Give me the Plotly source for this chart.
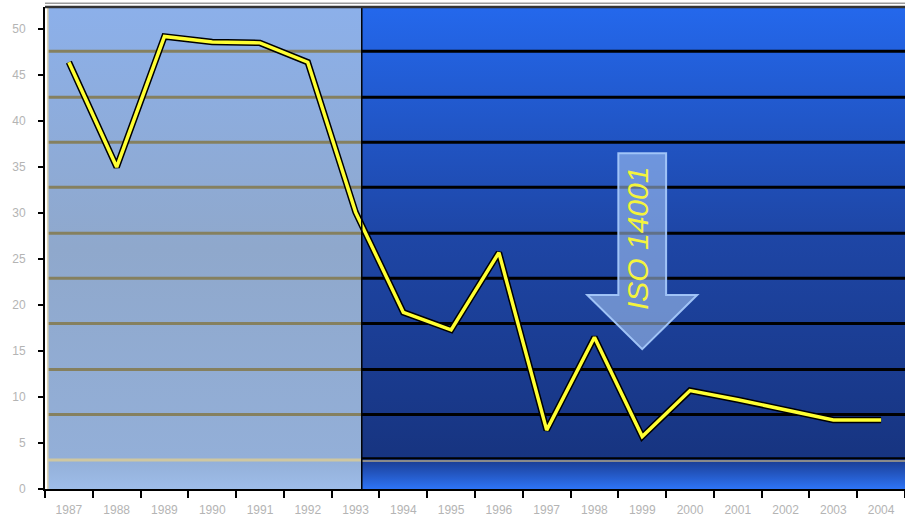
import plotly.graph_objects as go

# ---- data ----
years = ["1987", "1988", "1989", "1990", "1991", "1992", "1993", "1994", "1995",
         "1996", "1997", "1998", "1999", "2000", "2001", "2002", "2003", "2004"]
values = [46.4, 35.0, 49.2, 48.6, 48.5, 46.4, 30.1, 19.2, 17.3,
          25.7, 6.4, 16.5, 5.7, 10.7, 9.7, 8.6, 7.5, 7.5]
y_ticks = [0, 5, 10, 15, 20, 25, 30, 35, 40, 45, 50]
# gridlines on the (perspective) back wall
wall_grid = [8.1, 13.0, 18.0, 22.9, 27.8, 32.8, 37.7, 42.6, 47.6]
floor_level = 3.15
arrow_label = "ISO 14001"
arrow_year = "1999"

# ---- layout constants ----
X_MIN, X_MAX = -0.5, len(years) - 0.5
Y_MAX = 52.4
ERA_SPLIT = 6.13      # boundary of the shaded pre-ISO era
LEFT_EDGE = -0.44
idx = list(range(len(years)))

fig = go.Figure()


def rect_trace(x0, x1, y0, y1, scale):
    return go.Scatter(
        x=[x0, x1, x1, x0, x0], y=[y0, y0, y1, y1, y0],
        mode="none", fill="toself",
        fillgradient=dict(type="vertical", colorscale=scale),
        hoverinfo="skip", showlegend=False)


# right (post-1993) wall and floor
fig.add_trace(rect_trace(ERA_SPLIT, X_MAX, floor_level, Y_MAX,
                         [[0, "#173480"], [0.5, "#1e46a6"], [1, "#2468ec"]]))
fig.add_trace(rect_trace(ERA_SPLIT, X_MAX, 0, floor_level,
                         [[0, "#2e74f6"], [1, "#1a3c92"]]))
# left shaded era
fig.add_trace(rect_trace(LEFT_EDGE, ERA_SPLIT, 0, Y_MAX,
                         [[0, "#9ebde9"], [0.06, "#93afd8"], [0.5, "#8fa8cc"], [1, "#8cb0ea"]]))

# gridlines
for g in wall_grid:
    fig.add_trace(go.Scatter(x=[LEFT_EDGE, ERA_SPLIT], y=[g, g], mode="lines",
                             line=dict(color="#85805f", width=3),
                             hoverinfo="skip", showlegend=False))
    fig.add_trace(go.Scatter(x=[ERA_SPLIT, X_MAX], y=[g, g], mode="lines",
                             line=dict(color="#000000", width=3),
                             hoverinfo="skip", showlegend=False))
# floor edge
fig.add_trace(go.Scatter(x=[LEFT_EDGE, ERA_SPLIT], y=[floor_level, floor_level], mode="lines",
                         line=dict(color="#cfc7a0", width=3), hoverinfo="skip", showlegend=False))
fig.add_trace(go.Scatter(x=[ERA_SPLIT, X_MAX], y=[floor_level + 0.2, floor_level + 0.2], mode="lines",
                         line=dict(color="#000000", width=2), hoverinfo="skip", showlegend=False))
fig.add_trace(go.Scatter(x=[ERA_SPLIT, X_MAX], y=[floor_level - 0.1, floor_level - 0.1], mode="lines",
                         line=dict(color="#8a8a8a", width=2), hoverinfo="skip", showlegend=False))

# data line: black outline + yellow core
fig.add_trace(go.Scatter(x=idx, y=values, mode="lines",
                         line=dict(color="#000000", width=6.5),
                         hoverinfo="skip", showlegend=False))
fig.add_trace(go.Scatter(x=idx, y=values, mode="lines",
                         line=dict(color="#ffff33", width=3.5),
                         name="value", text=years,
                         hovertemplate="%{text}: %{y}<extra></extra>", showlegend=False))

# ISO arrow
ax = years.index(arrow_year)
shaft_hw, head_hw = 0.5, 1.15
y_top, y_neck, y_tip = 36.5, 21.1, 15.2
path = (f"M {ax - shaft_hw} {y_top} L {ax + shaft_hw} {y_top} L {ax + shaft_hw} {y_neck} "
        f"L {ax + head_hw} {y_neck} L {ax} {y_tip} L {ax - head_hw} {y_neck} "
        f"L {ax - shaft_hw} {y_neck} Z")
shapes = [
    dict(type="path", path=path, xref="x", yref="y", layer="above",
         fillcolor="rgba(175,205,248,0.55)", line=dict(color="rgba(165,200,250,0.95)", width=2)),
    # era boundary
    dict(type="line", xref="x", yref="y", x0=ERA_SPLIT, x1=ERA_SPLIT, y0=0, y1=Y_MAX,
         line=dict(color="#000000", width=1.5), layer="above"),
    # left 3-D wall edge
    dict(type="line", xref="x", yref="y", x0=LEFT_EDGE, x1=LEFT_EDGE, y0=0, y1=Y_MAX,
         line=dict(color="#d8d0b0", width=1.5), layer="above"),
    # top border
    dict(type="line", xref="paper", yref="paper", x0=0, x1=1, y0=1, y1=1,
         line=dict(color="#333333", width=2.5), layer="above"),
    dict(type="line", xref="paper", yref="paper", x0=0, x1=1, y0=1.008, y1=1.008,
         line=dict(color="#9a9a9a", width=1.5), layer="above"),
]

fig.add_annotation(x=ax, y=27.2, xref="x", yref="y", text=f"<i>{arrow_label}</i>",
                   textangle=-90, showarrow=False, xshift=-4,
                   font=dict(family="Liberation Sans, Arial, sans-serif", size=30, color="#f4f43c"))

fig.update_layout(
    width=905, height=523,
    margin=dict(l=45, r=0, t=7, b=34),
    paper_bgcolor="#ffffff", plot_bgcolor="#ffffff",
    shapes=shapes,
    xaxis=dict(range=[X_MIN, X_MAX], tickmode="array", tickvals=idx, ticktext=years,
               ticks="", showgrid=False, zeroline=False,
               showline=True, linecolor="#000000", linewidth=2,
               ticklabelstandoff=9,
               tickfont=dict(family="Liberation Sans, Arial, sans-serif", size=12, color="#b4b4b4"),
               minor=dict(tickmode="linear", tick0=-0.5, dtick=1, ticks="outside",
                          ticklen=7, tickwidth=1.5, tickcolor="#000000", showgrid=False),
               fixedrange=True),
    yaxis=dict(range=[0, Y_MAX], tickmode="array", tickvals=y_ticks,
               ticks="outside", ticklen=5, tickwidth=1.5, tickcolor="#000000",
               showgrid=False, zeroline=False,
               showline=True, linecolor="#000000", linewidth=2,
               ticklabelstandoff=10,
               tickfont=dict(family="Liberation Sans, Arial, sans-serif", size=12, color="#b4b4b4"),
               fixedrange=True),
)

fig.write_html("out.html")
